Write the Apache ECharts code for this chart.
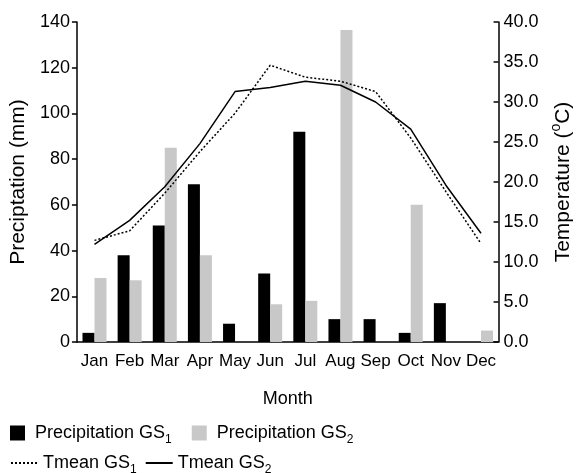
<!DOCTYPE html>
<html><head><meta charset="utf-8">
<script src="https://cdn.jsdelivr.net/npm/echarts@6/dist/echarts.min.js"></script>
<style>html,body{margin:0;padding:0;background:#fff}#c{width:582px;height:473px}</style>
</head><body><div id="c"></div>
<script>
var months = ['Jan','Feb','Mar','Apr','May','Jun','Jul','Aug','Sep','Oct','Nov','Dec'];
var precipGS1 = [4, 38, 51, 69, 8, 30, 92, 10, 10, 4, 17, 0];
var precipGS2 = [28, 27, 85, 38, 0, 16.5, 18, 136.5, 0, 60, 0, 5];
var tmeanGS1 = [12.7, 13.9, 18.6, 23.8, 28.6, 34.6, 33.1, 32.6, 31.3, 25.5, 18.8, 12.3];
var tmeanGS2 = [12.2, 15.2, 19.4, 24.8, 31.3, 31.8, 32.6, 32.1, 30.0, 26.6, 19.6, 13.6];
var precipTicks = [0, 20, 40, 60, 80, 100, 120, 140];
var tempTicks = [0, 5, 10, 15, 20, 25, 30, 35, 40];

var FONT = "'Liberation Sans', Arial, sans-serif";
var chart = echarts.init(document.getElementById('c'), null, {renderer: 'canvas'});
var legendRich = {
  pad: {width: 5},
  m: {fontSize: 18, fontFamily: FONT, color: '#000'},
  s: {fontSize: 12, fontFamily: FONT, color: '#000', padding: [14, 0, 0, 0]}
};
chart.setOption({
  animation: false,
  textStyle: {fontFamily: FONT, color: '#000'},
  grid: {left: 74, right: 60, top: 22, bottom: 131},
  legend: [
    {data: ['Precipitation GS1', 'Precipitation GS2'], left: 10, top: 424, orient: 'horizontal',
     icon: 'rect', itemWidth: 15, itemHeight: 15, itemGap: 20, padding: 0,
     formatter: function (n) { var m = n.match(/^(.*GS)(\d)$/); return '{pad|}{m|' + m[1] + '}{s|' + m[2] + '}'; },
     textStyle: {rich: legendRich}},
    {data: ['Tmean GS1', 'Tmean GS2'], left: 10, top: 454, orient: 'horizontal',
     itemWidth: 27, itemHeight: 14, itemGap: 8, padding: 0,
     itemStyle: {opacity: 0},
     formatter: function (n) { var m = n.match(/^(.*GS)(\d)$/); return '{m|' + m[1] + '}{s|' + m[2] + '}'; },
     textStyle: {rich: legendRich}}
  ],
  xAxis: {
    type: 'category', data: months, boundaryGap: true,
    name: 'Month', nameLocation: 'middle', nameGap: 48,
    nameTextStyle: {fontSize: 18, fontFamily: FONT, color: '#000'},
    axisLine: {lineStyle: {color: '#000', width: 1.5}},
    axisTick: {inside: true, length: 4, lineStyle: {color: '#000', width: 1.5}},
    axisLabel: {fontSize: 17, fontFamily: FONT, color: '#000', margin: 11, interval: 0}
  },
  yAxis: [
    {type: 'value', min: precipTicks[0], max: precipTicks[precipTicks.length - 1], interval: 20, position: 'left',
     name: 'Preciptation (mm)', nameLocation: 'middle', nameGap: 46, nameRotate: 90,
     nameTextStyle: {fontSize: 21, fontFamily: FONT, color: '#000'},
     splitLine: {show: false},
     axisLine: {show: true, lineStyle: {color: '#000', width: 1.5}},
     axisTick: {show: true, inside: false, length: 5, lineStyle: {color: '#000', width: 1.5}},
     axisLabel: {fontSize: 18, fontFamily: FONT, color: '#000', margin: 7}},
    {type: 'value', min: tempTicks[0], max: tempTicks[tempTicks.length - 1], interval: 5, position: 'right',
     name: 'Temperature ({o|o}C)', nameLocation: 'middle', nameGap: 46, nameRotate: 90,
     nameTextStyle: {fontSize: 21, fontFamily: FONT, color: '#000',
       rich: {o: {fontSize: 14, fontFamily: FONT, color: '#000', padding: [0, 0, 14, 0]}}},
     splitLine: {show: false},
     axisLine: {show: true, lineStyle: {color: '#000', width: 1.5}},
     axisTick: {show: true, inside: true, length: 5, lineStyle: {color: '#000', width: 1.5}},
     axisLabel: {fontSize: 18, fontFamily: FONT, color: '#000', margin: 5,
       formatter: function (v) { return v.toFixed(1); }}}
  ],
  series: [
    {name: 'Precipitation GS1', type: 'bar', data: precipGS1, barWidth: 12, barGap: '0%',
     itemStyle: {color: '#000'}},
    {name: 'Precipitation GS2', type: 'bar', data: precipGS2, barWidth: 12, barGap: '0%',
     itemStyle: {color: '#c8c8c8'}},
    {name: 'Tmean GS1', type: 'line', yAxisIndex: 1, data: tmeanGS1, symbol: 'none',
     lineStyle: {color: '#000', width: 1.5, type: [2, 2]}, itemStyle: {color: '#000'}},
    {name: 'Tmean GS2', type: 'line', yAxisIndex: 1, data: tmeanGS2, symbol: 'none',
     lineStyle: {color: '#000', width: 1.5, type: 'solid'}, itemStyle: {color: '#000'}}
  ]
});
</script></body></html>
